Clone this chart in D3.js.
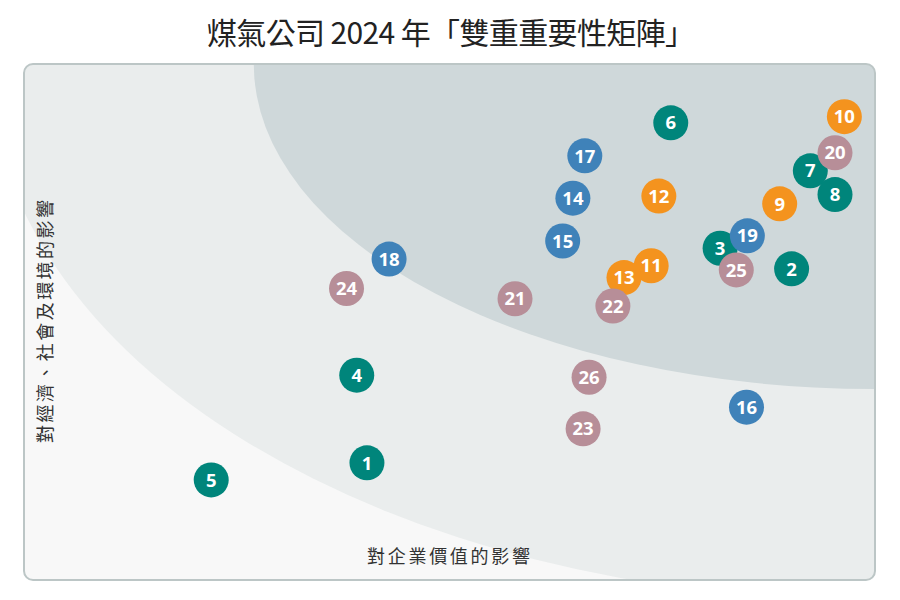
<!DOCTYPE html>
<html><head><meta charset="utf-8">
<script src="https://cdn.jsdelivr.net/npm/d3@7"></script>
<style>body{margin:0;background:#fff;}svg{display:block;}</style>
</head><body><svg id="c" width="900" height="600"></svg>
<script>
const ids = [1,2,3,4,5,6,7,8,9,10,11,12,13,14,15,16,17,18,19,20,21,22,23,24,25,26];
const businessImpact = [40.3,90.2,81.8,39.1,22.0,76.0,92.4,95.3,88.8,96.4,73.7,74.6,70.5,64.5,63.3,84.9,65.9,42.9,85.0,95.3,57.7,69.2,65.7,37.9,83.7,66.4];
const esgImpact = [22.7,60.3,64.3,39.7,19.4,88.6,79.3,74.7,72.9,89.8,60.9,74.4,58.6,74.0,65.7,33.5,82.2,62.2,66.7,82.8,54.5,53.1,29.3,56.5,60.1,39.3];
const groups = ["g","g","g","g","g","g","g","g","o","o","o","o","o","b","b","b","b","b","b","m","m","m","m","m","m","m"];
const groupColors = {g:"#00857b", o:"#f4931e", b:"#3f82b9", m:"#b78e98"};
const title = "煤氣公司 2024 年「雙重重要性矩陣」";
const xLabel = "對企業價值的影響";
const yLabel = "對經濟、社會及環境的影響";
// zone boundaries: ellipse radii (in data units) centred at top-right corner
const zoneRadii = [[104,104],[73,63]];
const zoneColors = ["#eaeded","#cfd8da"];

const svg = d3.select("#c");
const L=24,R=875,T=64,B=580;
const x = d3.scaleLinear().domain([0,100]).range([L,R]);
const y = d3.scaleLinear().domain([0,100]).range([B,T]);

const defs = svg.append("defs");
defs.append("clipPath").attr("id","panel").append("rect")
  .attr("x",L).attr("y",T).attr("width",R-L).attr("height",B-T).attr("rx",9);

svg.append("rect").attr("x",L).attr("y",T).attr("width",R-L).attr("height",B-T).attr("rx",9)
  .attr("fill","#f8f8f8");
const zg = svg.append("g").attr("clip-path","url(#panel)");
zoneRadii.forEach((r,i)=>{
  zg.append("ellipse").attr("cx",x(100)).attr("cy",y(100))
    .attr("rx",x(r[0])-x(0)).attr("ry",y(0)-y(r[1]))
    .attr("fill",zoneColors[i]);
});
svg.append("rect").attr("x",L).attr("y",T).attr("width",R-L).attr("height",B-T).attr("rx",9)
  .attr("fill","none").attr("stroke","#bcc6c6").attr("stroke-width",2);

const cjk = "'Noto Sans CJK TC','Noto Sans CJK SC',sans-serif";
svg.append("text").attr("x",451).attr("y",44).attr("text-anchor","middle")
  .attr("font-family",cjk).attr("font-size",30)
  .attr("textLength",488).attr("lengthAdjust","spacing")
  .attr("fill","#222").text(title);
svg.append("text").attr("x",448.5).attr("y",563).attr("text-anchor","middle")
  .attr("font-family",cjk).attr("font-size",18)
  .attr("textLength",163).attr("lengthAdjust","spacing")
  .attr("fill","#333").text(xLabel);
svg.append("text").attr("transform","translate(52,321.5) rotate(-90)").attr("text-anchor","middle")
  .attr("font-family",cjk).attr("font-size",18)
  .attr("textLength",243).attr("lengthAdjust","spacing")
  .attr("fill","#333").text(yLabel);

const data = ids.map((id,i)=>({id, bx:businessImpact[i], ey:esgImpact[i], g:groups[i]}));
const pts = svg.append("g").selectAll("g").data(data).join("g")
  .attr("transform",d=>`translate(${x(d.bx)},${y(d.ey)})`);
pts.append("circle").attr("r",17.5).attr("fill",d=>groupColors[d.g]);
pts.append("text").attr("text-anchor","middle").attr("dy","0.36em")
  .attr("font-family","'Open Sans',sans-serif").attr("font-weight",700).attr("font-size",18.5)
  .attr("fill","#fff").text(d=>d.id);
</script></body></html>
